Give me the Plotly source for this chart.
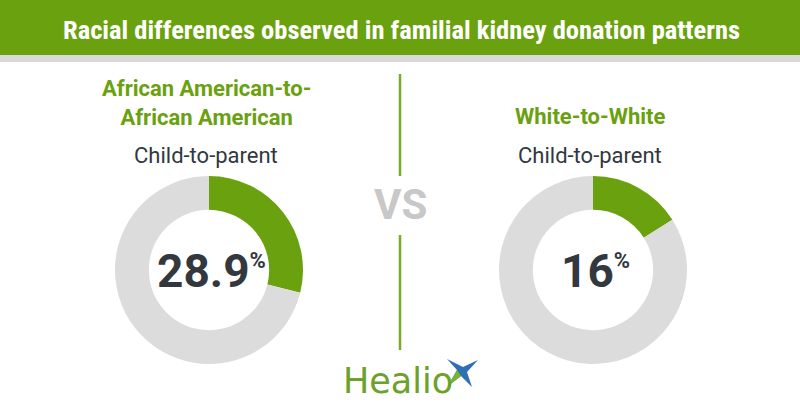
import plotly.graph_objects as go

# data
groups = ["African American-to-<br>African American", "White-to-White"]
relation = ["Child-to-parent", "Child-to-parent"]
share = [28.9, 16]
share_text = ["28.9", "16"]

GREEN = "#6aa10f"
GREY = "#dcdcdc"
DARK = "#32383d"
W, H = 800, 420


def px(x, y):
    # pixel coords -> paper coords
    return x / W, 1 - y / H


centers = [(209, 270), (593, 270)]
R = 94

fig = go.Figure()

for (cx, cy), s in zip(centers, share):
    fig.add_trace(
        go.Pie(
            values=[s, 100 - s],
            hole=0.64,
            sort=False,
            direction="clockwise",
            rotation=0,
            marker=dict(colors=[GREEN, GREY], line=dict(width=0)),
            textinfo="none",
            hoverinfo="skip",
            domain=dict(
                x=[(cx - R) / W, (cx + R) / W],
                y=[1 - (cy + R) / H, 1 - (cy - R) / H],
            ),
        )
    )


def poly(pts):
    return "M " + " L ".join(f"{px(x, y)[0]:.5f},{px(x, y)[1]:.5f}" for x, y in pts) + " Z"


shapes = [
    # header band + grey shadow strip
    dict(type="rect", xref="paper", yref="paper", x0=0, x1=1,
         y0=px(0, 55)[1], y1=1, fillcolor=GREEN, line_width=0, layer="below"),
    dict(type="rect", xref="paper", yref="paper", x0=0, x1=1,
         y0=px(0, 62)[1], y1=px(0, 55)[1], fillcolor="#d9d9d9", line_width=0,
         layer="below"),
    # divider
    dict(type="line", xref="paper", yref="paper", x0=px(400, 0)[0], x1=px(400, 0)[0],
         y0=px(0, 74)[1], y1=px(0, 176)[1], line=dict(color="#7aab25", width=2.5)),
    dict(type="line", xref="paper", yref="paper", x0=px(400, 0)[0], x1=px(400, 0)[0],
         y0=px(0, 235)[1], y1=px(0, 350)[1], line=dict(color="#7aab25", width=2.5)),
    # Healio star mark
    dict(type="path", xref="paper", yref="paper", line_width=0, fillcolor="#2f6fb4",
         path=poly([(447, 359), (463, 367), (478, 360), (467, 372), (472, 387),
                    (461, 376), (448, 386), (457, 370)])),
    dict(type="path", xref="paper", yref="paper", line_width=0, fillcolor="#7ab32e",
         path=poly([(448, 386), (461, 376), (457, 370)])),
]

ann = []


def add_text(x, y, text, size, color, family="Roboto", xanchor="center", yanchor="middle"):
    xp, yp = px(x, y)
    ann.append(dict(x=xp, y=yp, xref="paper", yref="paper", text=text, showarrow=False,
                    xanchor=xanchor, yanchor=yanchor,
                    font=dict(size=size, color=color, family=family)))


add_text(401, 30, "<b>Racial differences observed in familial kidney donation patterns</b>", 26.5,
         "white", family="Liberation Sans Narrow, Roboto Condensed, DejaVu Sans Condensed")

group_y = [103, 116]
for (cx, cy), g, gy, rel, t in zip(centers, groups, group_y, relation, share_text):
    add_text(cx - 3, gy, f"<b>{g}</b>", 22, GREEN)
    add_text(cx - 3, 155, rel, 22, DARK)
    add_text(cx + 2, 271,
             f"<b>{t}<sup><span style='font-size:22px'>%</span></sup></b>", 46, DARK)

add_text(400, 204, "<b>VS</b>", 42, "#c8c8c8")
add_text(341, 381, "Healio", 35, "#6ca22a", family="DejaVu Sans", xanchor="left")

fig.update_layout(
    width=W,
    height=H,
    margin=dict(l=0, r=0, t=0, b=0),
    paper_bgcolor="white",
    plot_bgcolor="white",
    showlegend=False,
    shapes=shapes,
    annotations=ann,
)

fig.write_html("out.html", config={"displayModeBar": False},
               post_script="document.body.style.margin='0';")
